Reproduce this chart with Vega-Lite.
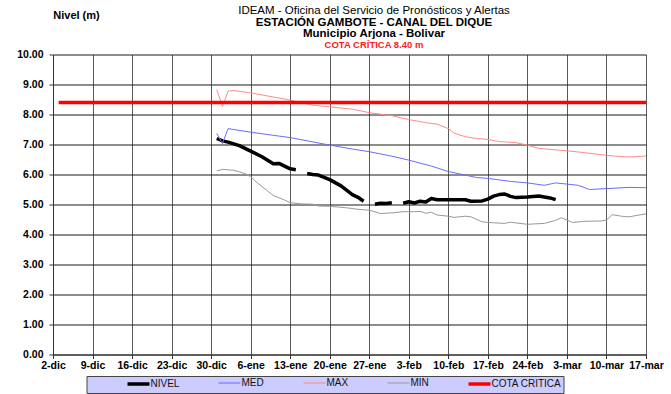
{
  "$schema": "https://vega.github.io/schema/vega-lite/v6.json",
  "width": 593,
  "height": 300,
  "autosize": {"type": "none"},
  "padding": {"left": 53, "top": 54.5, "right": 25, "bottom": 39.5},
  "background": "white",
  "config": {"font": "Liberation Sans", "view": {"stroke": null}},
  "title": {
    "text": "IDEAM - Oficina del Servicio de Pronósticos y Alertas",
    "subtitle": ["ESTACIÓN GAMBOTE - CANAL DEL DIQUE", "Municipio Arjona - Bolivar"],
    "anchor": "middle",
    "frame": "group",
    "dx": 24.5,
    "offset": -29.5,
    "font": "Liberation Sans",
    "fontSize": 11.5,
    "fontWeight": "normal",
    "color": "#000000",
    "subtitleFont": "Liberation Sans",
    "subtitleFontSize": 11.5,
    "subtitleFontWeight": "bold",
    "subtitleColor": "#000000",
    "subtitleLineHeight": 11,
    "subtitlePadding": 0
  },
  "data": {
    "values": [
      {"fecha": "2024-12-31", "serie": "NIVEL", "nivel": 7.20},
      {"fecha": "2025-01-01", "serie": "NIVEL", "nivel": 7.12},
      {"fecha": "2025-01-02", "serie": "NIVEL", "nivel": 7.08},
      {"fecha": "2025-01-04", "serie": "NIVEL", "nivel": 6.96},
      {"fecha": "2025-01-06", "serie": "NIVEL", "nivel": 6.78},
      {"fecha": "2025-01-08", "serie": "NIVEL", "nivel": 6.59},
      {"fecha": "2025-01-10", "serie": "NIVEL", "nivel": 6.36},
      {"fecha": "2025-01-11", "serie": "NIVEL", "nivel": 6.37},
      {"fecha": "2025-01-12", "serie": "NIVEL", "nivel": 6.28},
      {"fecha": "2025-01-13", "serie": "NIVEL", "nivel": 6.19},
      {"fecha": "2025-01-14", "serie": "NIVEL", "nivel": 6.16},
      {"fecha": "2025-01-15", "serie": "NIVEL", "nivel": null},
      {"fecha": "2025-01-16", "serie": "NIVEL", "nivel": 6.03},
      {"fecha": "2025-01-17", "serie": "NIVEL", "nivel": 6.00},
      {"fecha": "2025-01-18", "serie": "NIVEL", "nivel": 5.98},
      {"fecha": "2025-01-20", "serie": "NIVEL", "nivel": 5.83},
      {"fecha": "2025-01-22", "serie": "NIVEL", "nivel": 5.62},
      {"fecha": "2025-01-24", "serie": "NIVEL", "nivel": 5.33},
      {"fecha": "2025-01-25", "serie": "NIVEL", "nivel": 5.24},
      {"fecha": "2025-01-26", "serie": "NIVEL", "nivel": 5.11},
      {"fecha": "2025-01-27", "serie": "NIVEL", "nivel": null},
      {"fecha": "2025-01-28", "serie": "NIVEL", "nivel": 5.01},
      {"fecha": "2025-01-29", "serie": "NIVEL", "nivel": 5.04},
      {"fecha": "2025-01-30", "serie": "NIVEL", "nivel": 5.03},
      {"fecha": "2025-01-31", "serie": "NIVEL", "nivel": 5.06},
      {"fecha": "2025-02-01", "serie": "NIVEL", "nivel": null},
      {"fecha": "2025-02-02", "serie": "NIVEL", "nivel": 5.04},
      {"fecha": "2025-02-03", "serie": "NIVEL", "nivel": 5.09},
      {"fecha": "2025-02-04", "serie": "NIVEL", "nivel": 5.05},
      {"fecha": "2025-02-05", "serie": "NIVEL", "nivel": 5.11},
      {"fecha": "2025-02-06", "serie": "NIVEL", "nivel": 5.08},
      {"fecha": "2025-02-07", "serie": "NIVEL", "nivel": 5.20},
      {"fecha": "2025-02-08", "serie": "NIVEL", "nivel": 5.16},
      {"fecha": "2025-02-10", "serie": "NIVEL", "nivel": 5.16},
      {"fecha": "2025-02-13", "serie": "NIVEL", "nivel": 5.16},
      {"fecha": "2025-02-14", "serie": "NIVEL", "nivel": 5.11},
      {"fecha": "2025-02-16", "serie": "NIVEL", "nivel": 5.12},
      {"fecha": "2025-02-17", "serie": "NIVEL", "nivel": 5.18},
      {"fecha": "2025-02-18", "serie": "NIVEL", "nivel": 5.28},
      {"fecha": "2025-02-19", "serie": "NIVEL", "nivel": 5.33},
      {"fecha": "2025-02-20", "serie": "NIVEL", "nivel": 5.35},
      {"fecha": "2025-02-21", "serie": "NIVEL", "nivel": 5.27},
      {"fecha": "2025-02-22", "serie": "NIVEL", "nivel": 5.23},
      {"fecha": "2025-02-24", "serie": "NIVEL", "nivel": 5.25},
      {"fecha": "2025-02-26", "serie": "NIVEL", "nivel": 5.28},
      {"fecha": "2025-02-28", "serie": "NIVEL", "nivel": 5.22},
      {"fecha": "2025-03-01", "serie": "NIVEL", "nivel": 5.16},

      {"fecha": "2024-12-31", "serie": "MED", "nivel": 7.37},
      {"fecha": "2025-01-01", "serie": "MED", "nivel": 7.03},
      {"fecha": "2025-01-02", "serie": "MED", "nivel": 7.53},
      {"fecha": "2025-01-03", "serie": "MED", "nivel": 7.50},
      {"fecha": "2025-01-06", "serie": "MED", "nivel": 7.41},
      {"fecha": "2025-01-13", "serie": "MED", "nivel": 7.23},
      {"fecha": "2025-01-20", "serie": "MED", "nivel": 6.98},
      {"fecha": "2025-01-24", "serie": "MED", "nivel": 6.85},
      {"fecha": "2025-01-27", "serie": "MED", "nivel": 6.76},
      {"fecha": "2025-01-31", "serie": "MED", "nivel": 6.61},
      {"fecha": "2025-02-03", "serie": "MED", "nivel": 6.48},
      {"fecha": "2025-02-07", "serie": "MED", "nivel": 6.28},
      {"fecha": "2025-02-10", "serie": "MED", "nivel": 6.10},
      {"fecha": "2025-02-13", "serie": "MED", "nivel": 5.98},
      {"fecha": "2025-02-15", "serie": "MED", "nivel": 5.90},
      {"fecha": "2025-02-17", "serie": "MED", "nivel": 5.87},
      {"fecha": "2025-02-19", "serie": "MED", "nivel": 5.82},
      {"fecha": "2025-02-21", "serie": "MED", "nivel": 5.77},
      {"fecha": "2025-02-24", "serie": "MED", "nivel": 5.72},
      {"fecha": "2025-02-27", "serie": "MED", "nivel": 5.64},
      {"fecha": "2025-03-01", "serie": "MED", "nivel": 5.72},
      {"fecha": "2025-03-03", "serie": "MED", "nivel": 5.68},
      {"fecha": "2025-03-05", "serie": "MED", "nivel": 5.64},
      {"fecha": "2025-03-07", "serie": "MED", "nivel": 5.50},
      {"fecha": "2025-03-10", "serie": "MED", "nivel": 5.53},
      {"fecha": "2025-03-14", "serie": "MED", "nivel": 5.57},
      {"fecha": "2025-03-17", "serie": "MED", "nivel": 5.56},

      {"fecha": "2024-12-31", "serie": "MAX", "nivel": 8.83},
      {"fecha": "2025-01-01", "serie": "MAX", "nivel": 8.26},
      {"fecha": "2025-01-02", "serie": "MAX", "nivel": 8.78},
      {"fecha": "2025-01-03", "serie": "MAX", "nivel": 8.80},
      {"fecha": "2025-01-06", "serie": "MAX", "nivel": 8.72},
      {"fecha": "2025-01-13", "serie": "MAX", "nivel": 8.48},
      {"fecha": "2025-01-17", "serie": "MAX", "nivel": 8.31},
      {"fecha": "2025-01-24", "serie": "MAX", "nivel": 8.18},
      {"fecha": "2025-01-27", "serie": "MAX", "nivel": 8.06},
      {"fecha": "2025-01-31", "serie": "MAX", "nivel": 7.96},
      {"fecha": "2025-02-03", "serie": "MAX", "nivel": 7.83},
      {"fecha": "2025-02-06", "serie": "MAX", "nivel": 7.73},
      {"fecha": "2025-02-08", "serie": "MAX", "nivel": 7.68},
      {"fecha": "2025-02-10", "serie": "MAX", "nivel": 7.53},
      {"fecha": "2025-02-11", "serie": "MAX", "nivel": 7.38},
      {"fecha": "2025-02-13", "serie": "MAX", "nivel": 7.26},
      {"fecha": "2025-02-15", "serie": "MAX", "nivel": 7.20},
      {"fecha": "2025-02-17", "serie": "MAX", "nivel": 7.17},
      {"fecha": "2025-02-19", "serie": "MAX", "nivel": 7.10},
      {"fecha": "2025-02-22", "serie": "MAX", "nivel": 7.06},
      {"fecha": "2025-02-24", "serie": "MAX", "nivel": 6.98},
      {"fecha": "2025-02-26", "serie": "MAX", "nivel": 6.87},
      {"fecha": "2025-03-03", "serie": "MAX", "nivel": 6.79},
      {"fecha": "2025-03-06", "serie": "MAX", "nivel": 6.73},
      {"fecha": "2025-03-10", "serie": "MAX", "nivel": 6.64},
      {"fecha": "2025-03-13", "serie": "MAX", "nivel": 6.59},
      {"fecha": "2025-03-15", "serie": "MAX", "nivel": 6.59},
      {"fecha": "2025-03-17", "serie": "MAX", "nivel": 6.62},

      {"fecha": "2024-12-31", "serie": "MIN", "nivel": 6.12},
      {"fecha": "2025-01-01", "serie": "MIN", "nivel": 6.17},
      {"fecha": "2025-01-03", "serie": "MIN", "nivel": 6.14},
      {"fecha": "2025-01-04", "serie": "MIN", "nivel": 6.09},
      {"fecha": "2025-01-05", "serie": "MIN", "nivel": 6.03},
      {"fecha": "2025-01-06", "serie": "MIN", "nivel": 5.93},
      {"fecha": "2025-01-07", "serie": "MIN", "nivel": 5.75},
      {"fecha": "2025-01-09", "serie": "MIN", "nivel": 5.45},
      {"fecha": "2025-01-10", "serie": "MIN", "nivel": 5.30},
      {"fecha": "2025-01-12", "serie": "MIN", "nivel": 5.15},
      {"fecha": "2025-01-13", "serie": "MIN", "nivel": 5.06},
      {"fecha": "2025-01-15", "serie": "MIN", "nivel": 5.02},
      {"fecha": "2025-01-17", "serie": "MIN", "nivel": 5.01},
      {"fecha": "2025-01-18", "serie": "MIN", "nivel": 4.95},
      {"fecha": "2025-01-20", "serie": "MIN", "nivel": 4.94},
      {"fecha": "2025-01-23", "serie": "MIN", "nivel": 4.89},
      {"fecha": "2025-01-25", "serie": "MIN", "nivel": 4.84},
      {"fecha": "2025-01-27", "serie": "MIN", "nivel": 4.81},
      {"fecha": "2025-01-29", "serie": "MIN", "nivel": 4.70},
      {"fecha": "2025-01-31", "serie": "MIN", "nivel": 4.72},
      {"fecha": "2025-02-02", "serie": "MIN", "nivel": 4.76},
      {"fecha": "2025-02-04", "serie": "MIN", "nivel": 4.76},
      {"fecha": "2025-02-05", "serie": "MIN", "nivel": 4.77},
      {"fecha": "2025-02-06", "serie": "MIN", "nivel": 4.71},
      {"fecha": "2025-02-07", "serie": "MIN", "nivel": 4.74},
      {"fecha": "2025-02-08", "serie": "MIN", "nivel": 4.65},
      {"fecha": "2025-02-10", "serie": "MIN", "nivel": 4.61},
      {"fecha": "2025-02-11", "serie": "MIN", "nivel": 4.57},
      {"fecha": "2025-02-13", "serie": "MIN", "nivel": 4.61},
      {"fecha": "2025-02-14", "serie": "MIN", "nivel": 4.59},
      {"fecha": "2025-02-16", "serie": "MIN", "nivel": 4.42},
      {"fecha": "2025-02-18", "serie": "MIN", "nivel": 4.39},
      {"fecha": "2025-02-20", "serie": "MIN", "nivel": 4.37},
      {"fecha": "2025-02-21", "serie": "MIN", "nivel": 4.41},
      {"fecha": "2025-02-24", "serie": "MIN", "nivel": 4.34},
      {"fecha": "2025-02-27", "serie": "MIN", "nivel": 4.37},
      {"fecha": "2025-03-01", "serie": "MIN", "nivel": 4.47},
      {"fecha": "2025-03-02", "serie": "MIN", "nivel": 4.56},
      {"fecha": "2025-03-04", "serie": "MIN", "nivel": 4.40},
      {"fecha": "2025-03-06", "serie": "MIN", "nivel": 4.44},
      {"fecha": "2025-03-09", "serie": "MIN", "nivel": 4.45},
      {"fecha": "2025-03-10", "serie": "MIN", "nivel": 4.48},
      {"fecha": "2025-03-11", "serie": "MIN", "nivel": 4.66},
      {"fecha": "2025-03-13", "serie": "MIN", "nivel": 4.60},
      {"fecha": "2025-03-14", "serie": "MIN", "nivel": 4.59},
      {"fecha": "2025-03-17", "serie": "MIN", "nivel": 4.69},

      {"fecha": "2024-12-03", "serie": "COTA CRITICA", "nivel": 8.40},
      {"fecha": "2025-03-17", "serie": "COTA CRITICA", "nivel": 8.40}
    ]
  },
  "encoding": {
    "y": {
      "field": "nivel",
      "type": "quantitative",
      "scale": {"domain": [0, 10], "nice": false, "zero": true},
      "axis": {
        "values": [0, 1, 2, 3, 4, 5, 6, 7, 8, 9, 10],
        "format": ".2f",
        "grid": true,
        "gridColor": "#1a1a1a",
        "gridOpacity": 1,
        "gridWidth": 1,
        "domainColor": "#333333",
        "tickColor": "#333333",
        "tickSize": 4,
        "labelFont": "Liberation Sans",
        "labelFontSize": 10.5,
        "labelFontWeight": "bold",
        "labelColor": "#000000",
        "labelPadding": 6,
        "title": "Nivel (m)",
        "titleAngle": 0,
        "titleX": 23,
        "titleY": -39,
        "titleAlign": "center",
        "titleBaseline": "middle",
        "titleFont": "Liberation Sans",
        "titleFontSize": 11,
        "titleFontWeight": "bold",
        "titleColor": "#000000"
      }
    }
  },
  "layer": [
    {
      "transform": [{"filter": "datum.serie != 'COTA CRITICA'"}],
      "mark": {"type": "line", "strokeJoin": "round", "strokeCap": "butt"},
      "encoding": {
        "x": {
          "field": "fecha",
          "type": "temporal",
          "scale": {
            "type": "utc",
            "nice": false,
            "domain": [
              {"year": 2024, "month": 12, "date": 2, "utc": true},
              {"year": 2025, "month": 3, "date": 17, "utc": true}
            ]
          },
          "axis": {
            "orient": "bottom",
            "values": [
              {"year": 2024, "month": 12, "date": 2, "utc": true},
              {"year": 2024, "month": 12, "date": 9, "utc": true},
              {"year": 2024, "month": 12, "date": 16, "utc": true},
              {"year": 2024, "month": 12, "date": 23, "utc": true},
              {"year": 2024, "month": 12, "date": 30, "utc": true},
              {"year": 2025, "month": 1, "date": 6, "utc": true},
              {"year": 2025, "month": 1, "date": 13, "utc": true},
              {"year": 2025, "month": 1, "date": 20, "utc": true},
              {"year": 2025, "month": 1, "date": 27, "utc": true},
              {"year": 2025, "month": 2, "date": 3, "utc": true},
              {"year": 2025, "month": 2, "date": 10, "utc": true},
              {"year": 2025, "month": 2, "date": 17, "utc": true},
              {"year": 2025, "month": 2, "date": 24, "utc": true},
              {"year": 2025, "month": 3, "date": 3, "utc": true},
              {"year": 2025, "month": 3, "date": 10, "utc": true},
              {"year": 2025, "month": 3, "date": 17, "utc": true}
            ],
            "labelExpr": "utcdate(datum.value) + '-' + ['ene','feb','mar','abr','may','jun','jul','ago','sep','oct','nov','dic'][utcmonth(datum.value)]",
            "grid": true,
            "gridColor": "#5a5a5a",
            "gridOpacity": 1,
            "gridWidth": 1,
            "domainColor": "#333333",
            "tickColor": "#333333",
            "tickSize": 4,
            "labelFont": "Liberation Sans",
            "labelFontSize": 10.5,
            "labelFontWeight": "bold",
            "labelColor": "#000000",
            "labelPadding": 2,
            "labelAngle": 0,
            "labelOverlap": false,
            "labelBound": false,
            "labelFlush": false,
            "title": null
          }
        },
        "color": {
          "field": "serie",
          "type": "nominal",
          "scale": {
            "domain": ["NIVEL", "MED", "MAX", "MIN", "COTA CRITICA"],
            "range": ["#000000", "#6b6bff", "#ff8a8a", "#999999", "#ff0000"]
          },
          "legend": {
            "orient": "none",
            "legendX": 33.5,
            "legendY": 321.5,
            "direction": "horizontal",
            "columns": 5,
            "gridAlign": "none",
            "columnPadding": 0,
            "symbolOffset": 44,
            "title": null,
            "fillColor": "#ccccff",
            "strokeColor": "#444444",
            "padding": 2,
            "symbolType": "M-2.75,0H2.75",
            "symbolSize": 64,
            "symbolStrokeWidth": 1.5,
            "symbolFillColor": "transparent",
            "labelFont": "Liberation Sans",
            "labelFontSize": 10,
            "labelColor": "#111111",
            "labelOffset": 6,
            "labelExpr": "datum.label == 'COTA CRITICA' ? 'COTA CRITICA\u00a0\u00a0\u00a0\u00a0\u00a0\u00a0\u00a0\u00a0\u00a0\u00a0\u00a0\u00a0\u00a0\u00a0' : datum.label",
            "encode": {
              "legend": {
                "update": {
                  "fill": {"value": "#ccccff"},
                  "stroke": {"value": "#444444"}
                }
              },
              "symbols": {
                "update": {
                  "strokeWidth": {"signal": "datum.value == 'NIVEL' || datum.value == 'COTA CRITICA' ? 3.5 : 1.5"}
                }
              }
            }
          }
        },
        "strokeWidth": {
          "field": "serie",
          "type": "nominal",
          "scale": {
            "type": "ordinal",
            "domain": ["NIVEL", "MED", "MAX", "MIN", "COTA CRITICA"],
            "range": [3.5, 1, 1, 1, 3.5]
          },
          "legend": null
        }
      }
    },
    {
      "transform": [{"filter": "datum.serie == 'COTA CRITICA'"}],
      "mark": {"type": "line", "strokeCap": "butt", "color": "#ff0000", "strokeWidth": 3.5},
      "encoding": {
        "x": {
          "field": "fecha",
          "type": "temporal",
          "scale": {
            "type": "utc",
            "nice": false,
            "domain": [
              {"year": 2024, "month": 12, "date": 2, "utc": true},
              {"year": 2025, "month": 3, "date": 17, "utc": true}
            ]
          },
          "axis": {
            "orient": "top",
            "labels": false,
            "ticks": false,
            "domain": false,
            "grid": false,
            "title": "COTA CRÍTICA 8.40 m",
            "titleX": 320.5,
            "titleY": -10.5,
            "titleAlign": "center",
            "titleBaseline": "middle",
            "titleFont": "Liberation Sans",
            "titleFontSize": 9.5,
            "titleFontWeight": "bold",
            "titleColor": "#ff1a1a"
          }
        }
      }
    }
  ],
  "resolve": {"axis": {"x": "independent"}}
}
